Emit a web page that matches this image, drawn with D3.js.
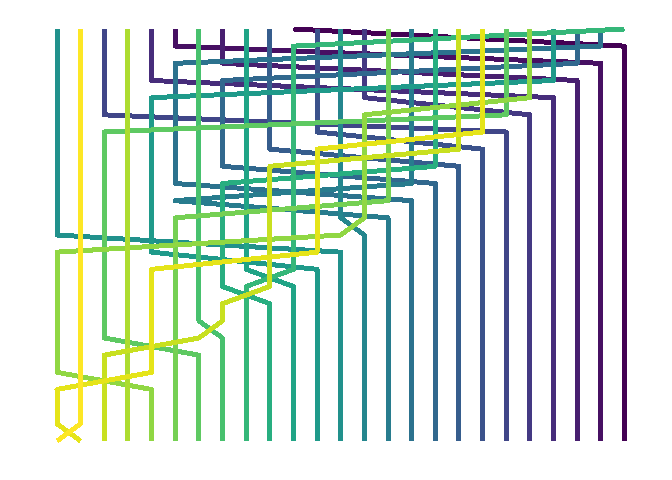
<!DOCTYPE html>
<html>
<head>
<meta charset="utf-8">
<script src="https://cdn.jsdelivr.net/npm/d3@7"></script>
<style>
  html, body { margin: 0; padding: 0; background: #fff; }
</style>
</head>
<body>
<div id="draw"></div>
<script>
// starting order: rank of the element sitting in each slot (0 = darkest colour)
var startOrder = [12, 24, 5, 21, 3, 1, 17, 2, 14, 7, 0, 6, 11, 4, 19, 10, 15, 22, 23, 18, 20, 13, 8, 9, 16];
// step k swaps slot (24 - k) with the slot below
var swapFrom = [10, 5, 7, 4, 13, 2, 11, 9, 7, 5, 5, 12, 0, 4, 8, 7, 8, 6, 2, 5, 0, 3, 2, 0];
var slots = d3.range(startOrder.length);
var stepRows = d3.range(swapFrom.length + 1);

window.onload = function(){
    var width = 672, height = 480;
    var svg = d3.select('#draw').append('svg')
        .attr('width', width).attr('height', height);

    // order of the elements after each step
    var orders = [startOrder.slice()];
    swapFrom.forEach(function(q, k){
        var o = orders[k].slice();
        var p = slots.length - 1 - k;
        var tmp = o[p]; o[p] = o[q]; o[q] = tmp;
        orders.push(o);
    });

    var x = d3.scaleLinear().domain([0, slots.length - 1]).range([57, 624.5]);
    var y = d3.scaleLinear().domain([0, stepRows.length - 1]).range([29, 441]);
    var color = function(r){ return d3.interpolateViridis(r / (slots.length - 1)); };

    var line = d3.line()
        .x(function(d){ return x(d.pos); })
        .y(function(d){ return y(d.t); });

    // one path per element, darker ones drawn first
    var ranks = d3.range(slots.length);
    svg.selectAll('path.track').data(ranks).enter().append('path')
        .attr('class', 'track')
        .attr('d', function(r){
            return line(stepRows.map(function(t){ return {t: t, pos: orders[t].indexOf(r)}; }));
        })
        .attr('fill', 'none')
        .attr('stroke', color)
        .attr('stroke-width', 5)
        .attr('stroke-linejoin', 'round')
        .attr('shape-rendering', 'crispEdges');
};
</script>
</body>
</html>
